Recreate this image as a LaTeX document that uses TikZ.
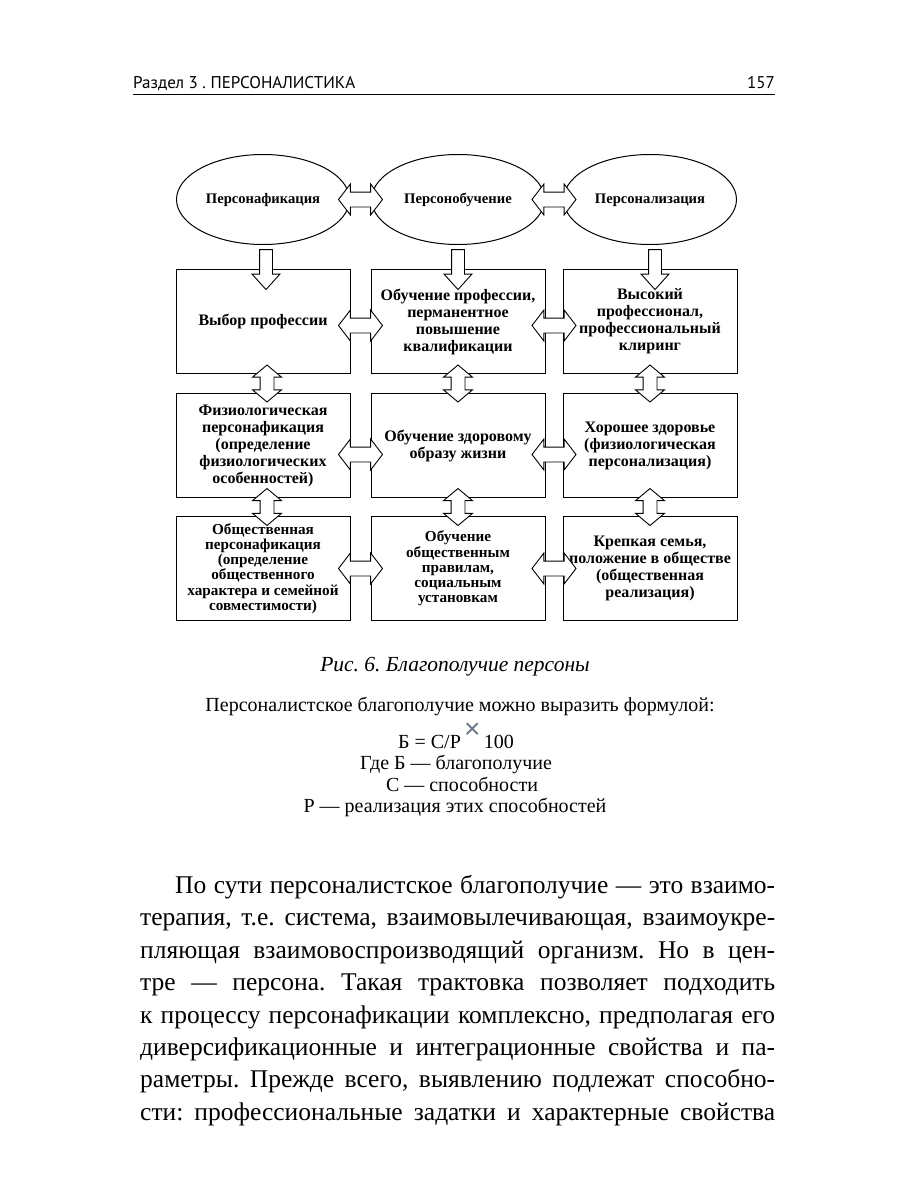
\documentclass[tikz,border=0pt]{standalone}
\usepackage{fontspec}
\setmainfont{Liberation Serif}
\newfontfamily\headfont{PT Sans}
\newfontfamily\crossfont{Liberation Sans}
\usetikzlibrary{positioning, calc, shapes.geometric, shapes.arrows}
\definecolor{crossgray}{RGB}{105,118,135}
\frenchspacing
\tikzset{
  oval/.style={draw, ellipse, line width=1pt, minimum width=173pt, minimum height=90pt, inner sep=0pt, text height=10pt, text depth=3pt, font=\fontsize{14.6pt}{16pt}\selectfont\bfseries},
  blk/.style={draw, rectangle, line width=1pt, minimum width=174pt, minimum height=104pt, inner sep=0pt, align=center, font=\fontsize{16pt}{17pt}\selectfont\bfseries},
  blks/.style={blk, font=\fontsize{15.2pt}{15.3pt}\selectfont\bfseries},
  harr/.style={draw, fill=white, double arrow, line width=0.9pt, inner xsep=0pt, inner ysep=7pt, double arrow head extend=8pt, double arrow tip angle=105, minimum height=44pt},
  varr/.style={draw, fill=white, double arrow, line width=0.9pt, inner xsep=0pt, inner ysep=6.5pt, double arrow head extend=7.5pt, double arrow tip angle=100, minimum height=37pt, rotate=90},
  sarr/.style={draw, fill=white, single arrow, line width=0.9pt, inner xsep=0pt, inner ysep=6pt, single arrow head extend=7.5pt, single arrow tip angle=84, minimum height=40pt, rotate=-90},
  head/.style={inner sep=0pt, font=\headfont\fontsize{17pt}{18pt}\selectfont},
  small/.style={inner sep=0pt, font=\fontsize{20pt}{22pt}\selectfont},
}

\begin{document}
\begin{tikzpicture}[x=1pt, y=-1pt]
  \useasboundingbox (0,0) rectangle (900,1200);
  \node[head, anchor=base west] (sec) at (133,88) {Раздел 3 . ПЕРСОНАЛИСТИКА};
  \node[head, anchor=base east] (pg) at (775,88) {157};
  \draw[line width=0.9pt] (133,94) -- (775,94);

  % boxes
  \node[blk] (b11) at (263,321.5) {Выбор профессии};
  \node[blk, right=20pt of b11] (b12) {Обучение профессии,\\перманентное\\повышение\\квалификации};
  \node[blk, right=17pt of b12] (b13) {Высокий\\профессионал,\\профессиональный\\клиринг};
  \node[blk, below=19pt of b11] (b21) {Физиологическая\\персонафикация\\(определение\\физиологических\\особенностей)};
  \node[blk, below=19pt of b12] (b22) {Обучение здоровому\\образу жизни};
  \node[blk, below=19pt of b13] (b23) {Хорошее здоровье\\(физиологическая\\персонализация)};
  \node[blks, below=18pt of b21] (b31) {Общественная\\персонафикация\\(определение\\общественного\\характера и семейной\\совместимости)};
  \node[blks, below=18pt of b22] (b32) {Обучение\\общественным\\правилам,\\социальным\\установкам};
  \node[blk, below=18pt of b23] (b33) {Крепкая семья,\\положение в обществе\\(общественная\\реализация)};
  \node[oval, above=24pt of b11] (e1) {Персонафикация};
  \node[oval, above=24pt of b12] (e2) {Персонобучение};
  \node[oval, above=24pt of b13] (e3) {Персонализация};

  % block arrows
  \node[harr] (h01) at ($(e1.east)!0.5!(e2.west)$) {};
  \node[harr] (h02) at ($(e2.east)!0.5!(e3.west)$) {};
  \node[sarr] (d1) at ($(e1.south)!0.5!(b11.north)+(3,9)$) {};
  \node[sarr] (d2) at ($(e2.south)!0.5!(b12.north)+(0,9)$) {};
  \node[sarr] (d3) at ($(e3.south)!0.5!(b13.north)+(5,9)$) {};
  \node[harr] (h11) at ($(b11.east)!0.5!(b12.west)+(0,4)$) {};
  \node[harr] (h12) at ($(b12.east)!0.5!(b13.west)+(0,4)$) {};
  \node[harr] (h21) at ($(b21.east)!0.5!(b22.west)+(0,9)$) {};
  \node[harr] (h22) at ($(b22.east)!0.5!(b23.west)+(0,9)$) {};
  \node[harr] (h31) at ($(b31.east)!0.5!(b32.west)$) {};
  \node[harr] (h32) at ($(b32.east)!0.5!(b33.west)$) {};
  \node[varr] (v11) at ($(b11.south)!0.5!(b21.north)+(4,0)$) {};
  \node[varr] (v12) at ($(b12.south)!0.5!(b22.north)$) {};
  \node[varr] (v13) at ($(b13.south)!0.5!(b23.north)$) {};
  \node[varr] (v21) at ($(b21.south)!0.5!(b31.north)+(4,0)$) {};
  \node[varr] (v22) at ($(b22.south)!0.5!(b32.north)$) {};
  \node[varr] (v23) at ($(b23.south)!0.5!(b33.north)$) {};

  % caption and formula
  \node[inner sep=0pt, anchor=base, font=\fontsize{21.5pt}{24pt}\selectfont\itshape] (cap) at (455,671) {Рис. 6. Благополучие персоны};
  \node[small, anchor=base] (f0) at (460,711) {Персоналистское благополучие можно выразить формулой:};
  \node[small, anchor=base] (f1) at (456,748) {Б = С/Р\,{\crossfont\fontsize{28pt}{28pt}\selectfont\color{crossgray}\raisebox{10pt}{×}}\,100};
  \node[small, anchor=base] (f2) at (456,769) {Где Б — благополучие};
  \node[small, anchor=base] (f3) at (462,791) {С — способности};
  \node[small, anchor=base] (f4) at (455,812) {Р — реализация этих способностей};

  % body text
  \node[inner sep=0pt, anchor=north west, text width=635pt, align=justify,
        font=\fontsize{25.5pt}{32.4pt}\selectfont] (body) at (140,875)
  {\hyphenpenalty=10000\exhyphenpenalty=10000
   \hspace*{35pt}По сути персоналистское благополучие — это взаимо-\linebreak
   терапия, т.е. система, взаимовылечивающая, взаимоукре-\linebreak
   пляющая взаимовоспроизводящий организм. Но в цен-\linebreak
   тре — персона. Такая трактовка позволяет подходить\linebreak
   к процессу персонафикации комплексно, предполагая его\linebreak
   диверсификационные и интеграционные свойства и па-\linebreak
   раметры. Прежде всего, выявлению подлежат способно-\linebreak
   сти: профессиональные задатки и характерные свойства\parfillskip=0pt\par};
\end{tikzpicture}
\end{document}
